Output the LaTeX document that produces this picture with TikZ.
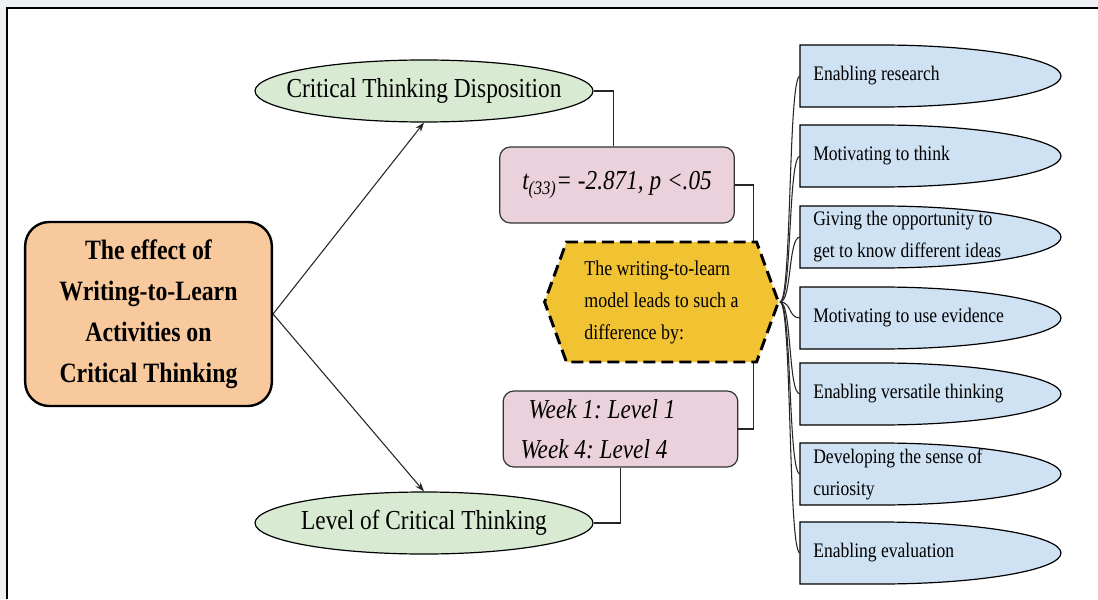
\documentclass[tikz,border=0pt]{standalone}
\usepackage{fontspec}
\setmainfont{Liberation Serif}[FakeStretch=0.85]
\frenchspacing
\usetikzlibrary{shapes.geometric,shapes.symbols,arrows.meta}
\definecolor{peach}{HTML}{F7C99C}
\definecolor{sage}{HTML}{D9EAD3}
\definecolor{rose}{HTML}{EAD1DC}
\definecolor{gold}{HTML}{F1C232}
\definecolor{sky}{HTML}{CFE2F3}
\definecolor{page}{HTML}{EEF1F3}
\tikzset{
  effect/.style={draw, line width=1.8pt, rounded corners=18pt, fill=peach, minimum width=185pt, minimum height=138pt, align=center, font=\fontsize{21}{30.75}\selectfont\bfseries},
  outcome/.style={ellipse, draw, line width=0.9pt, fill=sage, minimum width=253.5pt, minimum height=46.5pt, inner xsep=-20pt, inner ysep=0pt, font=\fontsize{20.6}{24}\selectfont},
  result/.style={draw=black!80, line width=0.9pt, rounded corners=8pt, fill=rose, minimum width=176pt, minimum height=57pt, font=\fontsize{20.5}{30}\selectfont\itshape},
  reason/.style={signal, signal to=west and east, signal pointer angle=140, draw, line width=2.2pt, dash pattern=on 9pt off 4.5pt, fill=gold, inner xsep=13.5pt, minimum height=90pt, align=left, font=\fontsize{15.8}{24}\selectfont},
  waybox/.style={draw, line width=0.9pt, fill=sky},
  waytext/.style={anchor=west, inner xsep=9.75pt, align=left, font=\fontsize{15.5}{24}\selectfont},
  link/.style={draw=black!85, line width=0.8pt}
}
\begin{document}
\begin{tikzpicture}
[x=0.75pt, y=-0.75pt]
\useasboundingbox (0,0) rectangle (1098,599);
\fill[page] (0,0) rectangle (1098,599);
\fill[white] (7,8) rectangle (1098,599);
\draw[line width=1.4pt] (7,599) -- (7,8) -- (1098,8);
% main topic and the two outcomes
\node [effect] (main) at (148.5,314) {The effect of\\Writing-to-Learn\\Activities on\\Critical Thinking};
\node [outcome] (ctd) at (424,91) {Critical Thinking Disposition};
\node [outcome] (lct) at (424,523) {Level of Critical Thinking};
\draw [link, -{Stealth[length=7pt,width=5pt]}] (main.east) -- (ctd.south);
\draw [link, -{Stealth[length=7pt,width=5pt]}] (main.east) -- (lct.north);
% results
\node [result] (ttest) at (617,185) {t\textsubscript{(33)}= -2.871, p <.05};
\node [result, text width=150pt, align=flush left] (weeks) at (620.5,429) {\hspace*{6pt}Week 1: Level 1\\Week 4: Level 4};
% how
\node [reason] (hex) at (661.5,302) {The writing-to-learn\\model leads to such a\\difference by:};
\draw [link] (ctd.east) -| ([xshift=-2.6pt]ttest.north);
\draw [link] (ttest.east) -| ([xshift=69pt]hex.north);
\draw [link] (weeks.east) -| ([xshift=69pt]hex.south);
\draw [link] (weeks.south) |- (lct.east);
% ways
\foreach \i/\y/\txt in {1/76/{Enabling research},
                        2/156/{Motivating to think},
                        3/237/{Giving the opportunity to\\get to know different ideas},
                        4/318/{Motivating to use evidence},
                        5/394/{Enabling versatile thinking},
                        6/474/{Developing the sense of\\curiosity},
                        7/553/{Enabling evaluation}}
{
  \draw [waybox] (800,\y-31) -- (880,\y-31) .. controls (979,\y-31) and (1061,\y-17) .. (1061,\y)
    .. controls (1061,\y+17) and (979,\y+31) .. (880,\y+31) -- (800,\y+31) -- cycle;
  \node [waytext] (b\i) at (800,\y) {\txt};
  \draw [link] (hex.east) .. controls +(12,0) and +(-12,0) .. (b\i.west);
}
\end{tikzpicture}
\end{document}
